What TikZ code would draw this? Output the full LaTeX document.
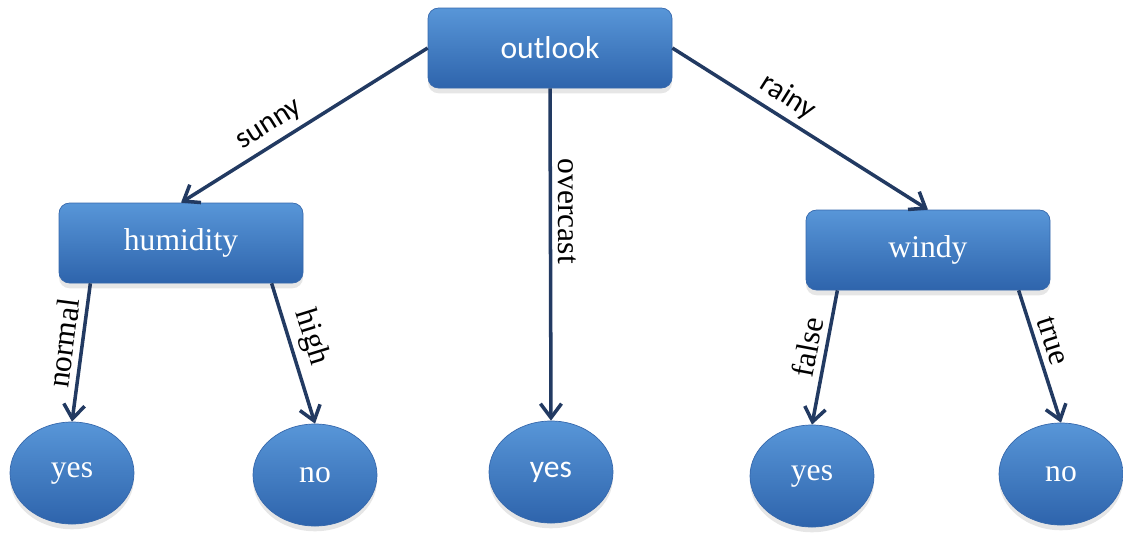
\documentclass[tikz,border=0pt]{standalone}
\usepackage{fontspec}
\setmainfont{Liberation Serif}
\newfontfamily\calibri{Carlito}
\usetikzlibrary{arrows.meta,shapes.geometric,shadows}
\definecolor{boxtop}{RGB}{88,150,216}
\definecolor{boxmid}{RGB}{60,120,192}
\definecolor{boxbot}{RGB}{46,100,172}
\definecolor{boxline}{RGB}{54,104,172}
\definecolor{arrowcol}{RGB}{34,58,98}
\tikzset{
  testbox/.style={rectangle, rounded corners=6pt, minimum width=4.88cm, minimum height=1.6cm,
    top color=boxtop, middle color=boxmid, bottom color=boxbot, draw=boxline, text=white,
    font=\fontsize{18}{20}\selectfont,
    drop shadow={opacity=0.2, shadow xshift=0pt, shadow yshift=-3pt}},
  leaf/.style={ellipse, minimum width=2.48cm, minimum height=2.04cm,
    top color=boxtop, middle color=boxmid, bottom color=boxbot, draw=boxline, text=white,
    font=\fontsize{18}{20}\selectfont,
    drop shadow={opacity=0.2, shadow xshift=0pt, shadow yshift=-3pt}},
  branch/.style={draw=arrowcol, line width=2pt, -{Straight Barb[length=8pt,width=12pt]}},
  lbl/.style={sloped, above, text=black, font=\fontsize{18}{20}\selectfont},
}
\begin{document}
\begin{tikzpicture}
  \useasboundingbox (0,0) rectangle (22.46,-11.02);
  % tests
  \node[testbox, font=\calibri\fontsize{18}{20}\selectfont] (outlook) at (11.0,-0.96) {outlook};
  \node[testbox] (humidity) at (3.62,-4.86) {humidity};
  \node[testbox] (windy) at (18.56,-5.0) {windy};
  % leaves
  \node[leaf] (yes1) at (1.44,-9.46) {yes};
  \node[leaf] (no1) at (6.3,-9.5) {no};
  \node[leaf, font=\calibri\fontsize{18}{20}\selectfont] (yes2) at (11.02,-9.44) {yes};
  \node[leaf] (yes3) at (16.24,-9.52) {yes};
  \node[leaf] (no2) at (21.22,-9.48) {no};
  % branches
  \draw[branch] (outlook.west) -- (humidity.north)
    node[lbl, pos=0.6, font=\calibri\fontsize{17}{19}\selectfont] {sunny};
  \draw[branch] (outlook.south) -- (yes2.north)
    node[lbl, pos=0.37] {overcast};
  \draw[branch] (outlook.east) -- (windy.north)
    node[lbl, pos=0.41, font=\calibri\fontsize{17}{19}\selectfont] {rainy};
  \draw[branch] (humidity.204) -- (yes1.north) node[lbl, pos=0.45] {normal};
  \draw[branch] (humidity.336) -- (no1.north) node[lbl, pos=0.43] {high};
  \draw[branch] (windy.204) -- (yes3.north) node[lbl, pos=0.45] {false};
  \draw[branch] (windy.336) -- (no2.north) node[lbl, pos=0.42] {true};
\end{tikzpicture}
\end{document}
